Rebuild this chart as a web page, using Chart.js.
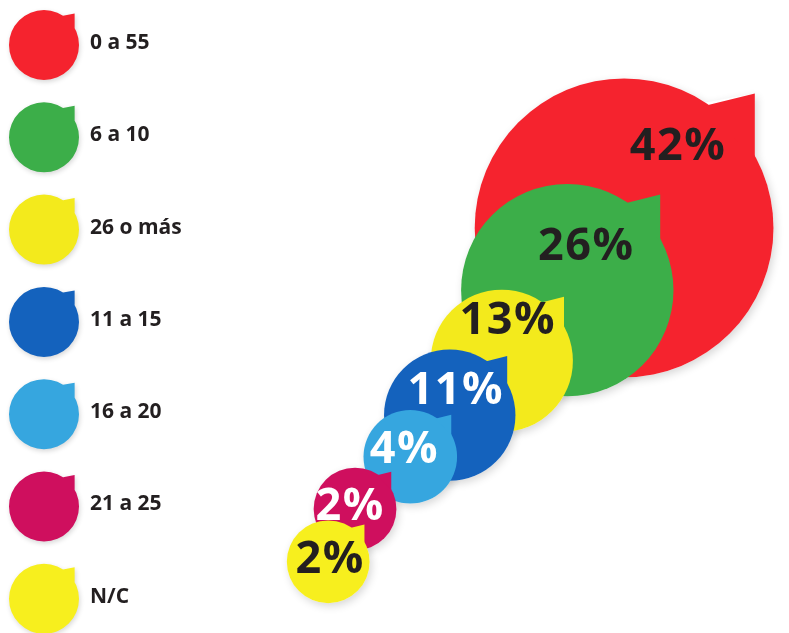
<!DOCTYPE html>
<html lang="es">
<head>
<meta charset="utf-8">
<title>Reparto por tramos</title>
<script src="https://cdn.jsdelivr.net/npm/chart.js@4.4.1/dist/chart.umd.min.js"></script>
<style>
    html, body { margin: 0; padding: 0; background: #ffffff; }
    #wrap { width: 789px; height: 633px; }
</style>
</head>
<body>
<div id="wrap"><canvas id="bubbles" width="789" height="633"></canvas></div>
<script>
// tramos y porcentajes
const categories = ['0 a 55', '6 a 10', '26 o más', '11 a 15', '16 a 20', '21 a 25', 'N/C'];
const shares = [42, 26, 13, 11, 4, 2, 2];

// colores de cada tramo y del texto de su porcentaje
const fillColors = ['#f5232e', '#3cae49', '#f3ea1c', '#1462bd', '#36a6df', '#cf0f5e', '#f7ef1e'];
const labelColors = ['#231f20', '#231f20', '#231f20', '#ffffff', '#ffffff', '#ffffff', '#231f20'];

// colocación de las burbujas sobre la diagonal (unidades de escala)
const posX = [7.91, 7.19, 6.36, 5.70, 5.20, 4.50, 4.16];
const posY = [7.68, 6.50, 5.16, 4.13, 3.34, 2.35, 1.35];
// desplazamiento del texto respecto al centro (px)
const labelShift = [[53, -81], [18, -43], [5, -40], [5, -24], [-7, -7], [-6, -2], [1, -2]];

// radio de la burbuja según el porcentaje
const radiusFor = v => 36 + 2.7 * v;

const TEXT = '#231f20';
const FONT = '"Open Sans", "Noto Sans", sans-serif';

// little flag at the top right that turns the circle into a speech bubble
function tailPath(ctx, cx, cy, r) {
    const a = -57 * Math.PI / 180;
    ctx.beginPath();
    ctx.moveTo(cx + r * 0.97 * Math.cos(a), cy + r * 0.97 * Math.sin(a));
    ctx.lineTo(cx + 0.875 * r, cy - 0.9 * r);
    ctx.lineTo(cx + 0.875 * r, cy - 0.46 * r);
    ctx.closePath();
}

function bubblePath(ctx, cx, cy, r) {
    ctx.beginPath();
    ctx.arc(cx, cy, r, 0, Math.PI * 2);
    const a = -57 * Math.PI / 180;
    ctx.moveTo(cx + r * Math.cos(a), cy + r * Math.sin(a));
    ctx.lineTo(cx + 0.875 * r, cy - 0.9 * r);
    ctx.lineTo(cx + 0.875 * r, cy - 0.48 * r);
    ctx.closePath();
}

function softShadow(ctx) {
    ctx.shadowColor = 'rgba(0, 0, 0, 0.16)';
    ctx.shadowBlur = 8;
    ctx.shadowOffsetX = 2;
    ctx.shadowOffsetY = 3;
}

const bubbleDecor = {
    id: 'bubbleDecor',
    beforeDatasetsDraw(chart) {
        const ctx = chart.ctx;
        const meta = chart.getDatasetMeta(0);
        ctx.save();
        softShadow(ctx);
        ctx.fillStyle = '#ffffff';
        meta.data.forEach(el => {
            bubblePath(ctx, el.x, el.y, el.options.radius);
            ctx.fill();
        });
        ctx.restore();
    },
    afterDatasetsDraw(chart) {
        const ctx = chart.ctx;
        const meta = chart.getDatasetMeta(0);
        ctx.save();
        meta.data.forEach((el, i) => {
            tailPath(ctx, el.x, el.y, el.options.radius);
            ctx.fillStyle = fillColors[i];
            ctx.fill();
        });
        ctx.font = 'bold 45px ' + FONT;
        ctx.letterSpacing = '1.5px';
        ctx.textAlign = 'center';
        ctx.textBaseline = 'middle';
        meta.data.forEach((el, i) => {
            ctx.fillStyle = labelColors[i];
            // nudge right to balance the trailing letter spacing
            ctx.fillText(shares[i] + '%', el.x + labelShift[i][0] + 1, el.y + labelShift[i][1]);
        });
        ctx.restore();
    }
};

// leyenda de la izquierda con el mismo dibujo de burbuja
const sideLegend = {
    id: 'sideLegend',
    afterDraw(chart) {
        const ctx = chart.ctx;
        const iconR = 35;
        const iconX = 44;
        const top = 45;
        const step = 92.3;
        ctx.save();
        categories.forEach((name, i) => {
            const cy = top + i * step;
            ctx.save();
            softShadow(ctx);
            ctx.shadowBlur = 5;
            ctx.shadowOffsetX = 1;
            ctx.shadowOffsetY = 2;
            ctx.fillStyle = fillColors[i];
            bubblePath(ctx, iconX, cy, iconR);
            ctx.fill();
            ctx.restore();
            ctx.fillStyle = TEXT;
            ctx.font = 'bold 21px ' + FONT;
            ctx.textAlign = 'left';
            ctx.textBaseline = 'middle';
            ctx.fillText(name, 90, cy - 2);
        });
        ctx.restore();
    }
};

const ctx = document.getElementById('bubbles').getContext('2d');

new Chart(ctx, {
    type: 'bubble',
    data: {
        labels: categories,
        datasets: [{
            label: 'Porcentaje',
            data: shares.map((v, i) => ({ x: posX[i], y: posY[i], r: radiusFor(v), v: v })),
            backgroundColor: fillColors,
            borderWidth: 0,
            hoverRadius: 0,
            clip: false
        }]
    },
    options: {
        responsive: false,
        animation: false,
        events: [],
        layout: { padding: 0, autoPadding: false },
        plugins: {
            legend: { display: false },
            tooltip: { enabled: false }
        },
        scales: {
            x: { display: false, min: 0, max: 10 },
            y: { display: false, min: 0, max: 12 }
        }
    },
    plugins: [bubbleDecor, sideLegend]
});
</script>
</body>
</html>
